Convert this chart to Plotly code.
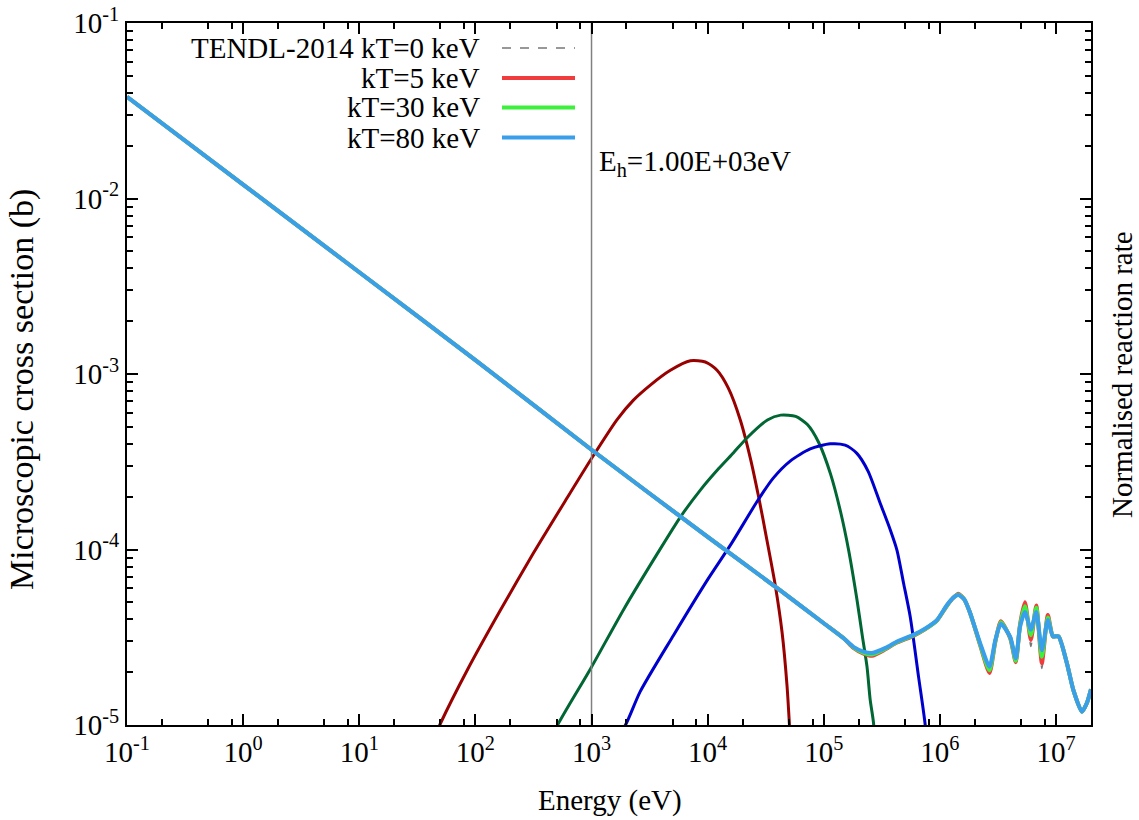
import numpy as np
import plotly.graph_objects as go

# ---------------- data ----------------
# Pointwise cross section (b) vs energy (eV), Doppler broadened at several kT
xs_E = [0.1, 1, 10, 100, 1e3, 1e4, 4.22e4, 1e5, 1.5e5, 1.8e5, 2.2e5, 2.6e5, 3.4e5, 4.27e5,
        5.9e5, 7.5e5, 9.42e5, 1.15e6, 1.3e6, 1.44e6, 1.62e6, 1.82e6, 2.22e6, 2.67e6, 3.0e6,
        3.35e6, 4.03e6, 4.5e6, 4.9e6, 5.4e6, 6.07e6, 6.76e6, 7.55e6, 8.5e6, 9.4e6, 1.05e7,
        1.24e7, 1.41e7, 1.67e7, 1.84e7, 2.0e7]
xs_kT80 = [0.038, 0.0120, 3.8e-3, 1.20e-3, 3.7e-4, 1.18e-4, 5.85e-5, 3.8e-5, 3.1e-5, 2.79e-5, 2.62e-5, 2.57e-5, 2.75e-5, 2.99e-5,
           3.26e-5, 3.55e-5, 3.96e-5, 4.83e-5, 5.3e-5, 5.5e-5, 5.2e-5, 4.35e-5, 2.93e-5, 2.15e-5, 3.05e-5,
           3.77e-5, 3.18e-5, 2.4e-5, 3.63e-5, 4.4e-5, 3.5e-5, 4.4e-5, 2.67e-5, 3.96e-5, 3.2e-5, 3.2e-5,
           2.25e-5, 1.58e-5, 1.19e-5, 1.33e-5, 1.60e-5]
xs_kT30 = [0.038, 0.0120, 3.8e-3, 1.20e-3, 3.7e-4, 1.18e-4, 5.85e-5, 3.8e-5, 3.1e-5, 2.77e-5, 2.58e-5, 2.52e-5, 2.72e-5, 2.97e-5,
           3.24e-5, 3.53e-5, 3.94e-5, 4.8e-5, 5.3e-5, 5.55e-5, 5.2e-5, 4.35e-5, 2.88e-5, 2.05e-5, 3.0e-5,
           3.85e-5, 3.15e-5, 2.32e-5, 3.7e-5, 4.75e-5, 3.25e-5, 4.65e-5, 2.45e-5, 4.1e-5, 3.2e-5, 3.2e-5,
           2.25e-5, 1.58e-5, 1.19e-5, 1.33e-5, 1.60e-5]
xs_kT5 = [0.038, 0.0120, 3.8e-3, 1.20e-3, 3.7e-4, 1.18e-4, 5.85e-5, 3.8e-5, 3.1e-5, 2.75e-5, 2.55e-5, 2.48e-5, 2.7e-5, 2.95e-5,
          3.22e-5, 3.52e-5, 3.93e-5, 4.78e-5, 5.3e-5, 5.6e-5, 5.2e-5, 4.35e-5, 2.85e-5, 1.98e-5, 2.98e-5,
          3.9e-5, 3.12e-5, 2.28e-5, 3.75e-5, 5.0e-5, 3.05e-5, 4.8e-5, 2.25e-5, 4.24e-5, 3.2e-5, 3.2e-5,
          2.25e-5, 1.58e-5, 1.19e-5, 1.33e-5, 1.60e-5]
xs_kT0 = [0.038, 0.0120, 3.8e-3, 1.20e-3, 3.7e-4, 1.18e-4, 5.85e-5, 3.8e-5, 3.1e-5, 2.75e-5, 2.55e-5, 2.47e-5, 2.7e-5, 2.95e-5,
          3.22e-5, 3.52e-5, 3.93e-5, 4.78e-5, 5.3e-5, 5.6e-5, 5.2e-5, 4.35e-5, 2.85e-5, 1.96e-5, 2.98e-5,
          3.9e-5, 3.12e-5, 2.25e-5, 3.75e-5, 5.1e-5, 2.8e-5, 4.85e-5, 2.1e-5, 4.3e-5, 3.2e-5, 3.2e-5,
          2.25e-5, 1.58e-5, 1.19e-5, 1.33e-5, 1.60e-5]

# Normalised reaction rate spectra (Maxwellian-weighted)
rr5_E = [36, 50, 85, 164, 318, 617, 1000, 1660, 2296, 3210, 4775, 7100, 9550, 12050, 15070, 19100,
         23300, 27500, 32400, 38300, 43700, 48200, 51500]
rr5_v = [6.2e-6, 1.02e-5, 2.05e-5, 4.5e-5, 9.6e-5, 1.97e-4, 3.3e-4, 5.5e-4, 7.1e-4, 8.65e-4, 1.05e-3, 1.19e-3, 1.17e-3,
         1.05e-3, 8.3e-4, 5.47e-4, 3.32e-4, 1.99e-4, 1.13e-4, 6.2e-5, 3.39e-5, 1.69e-5, 8.2e-6]

rr30_E = [216, 300, 510, 984, 1908, 3700, 5820, 8650, 12500, 16630, 22000, 32700, 42600, 57300, 72300,
          90400, 114600, 139800, 163700, 193300, 215000, 235600, 251000, 268000, 285000]
rr30_v = [3.0e-6, 4.9e-6, 1.0e-5, 2.1e-5, 4.6e-5, 9.5e-5, 1.53e-4, 2.18e-4, 2.9e-4, 3.55e-4, 4.35e-4, 5.47e-4, 5.83e-4, 5.73e-4, 5.15e-4,
          4.07e-4, 2.68e-4, 1.63e-4, 9.9e-5, 5.15e-5, 3.2e-5, 2.15e-5, 1.39e-5, 1.03e-5, 5.0e-6]

rr80_E = [576, 800, 1360, 1960, 2624, 5088, 9870, 16000, 26560, 36700, 51360, 76400, 113600, 152800,
          192800, 241000, 305600, 372800, 427000, 486000, 555000, 655000, 747000, 790000]
rr80_v = [2.1e-6, 3.36e-6, 7.0e-6, 1.0e-5, 1.55e-5, 3.25e-5, 6.65e-5, 1.08e-4, 1.87e-4, 2.55e-4, 3.19e-4, 3.74e-4, 4.0e-4, 3.93e-4,
          3.53e-4, 2.79e-4, 1.84e-4, 1.3e-4, 9.9e-5, 6.45e-5, 4.14e-5, 1.88e-5, 1.0e-5, 6.0e-6]

Eh = 1.0e3
legend_labels = ["TENDL-2014 kT=0 keV", "kT=5 keV", "kT=30 keV", "kT=80 keV"]
x_tick_vals = [1e-1, 1e0, 1e1, 1e2, 1e3, 1e4, 1e5, 1e6, 1e7]
x_tick_text = ["10<sup>-1</sup>", "10<sup>0</sup>", "10<sup>1</sup>", "10<sup>2</sup>", "10<sup>3</sup>",
               "10<sup>4</sup>", "10<sup>5</sup>", "10<sup>6</sup>", "10<sup>7</sup>"]
y_tick_vals = [1e-5, 1e-4, 1e-3, 1e-2, 1e-1]
y_tick_text = ["10<sup>-5</sup>", "10<sup>-4</sup>", "10<sup>-3</sup>", "10<sup>-2</sup>", "10<sup>-1</sup>"]

# ---------------- style ----------------
FONT = "Liberation Serif, Times New Roman, Times, serif"
FS = 29
c_kT0 = "#777777"
c_kT5 = "#f03c3c"
c_kT30 = "#3cf03c"
c_kT80 = "#3a9fea"
c_rr5 = "#990000"
c_rr30 = "#006633"
c_rr80 = "#0000cc"

fig = go.Figure()

# reaction rate spectra
for E, v, c in [(rr5_E, rr5_v, c_rr5), (rr30_E, rr30_v, c_rr30), (rr80_E, rr80_v, c_rr80)]:
    fig.add_trace(go.Scatter(x=E, y=v, mode="lines", line=dict(color=c, width=3, shape="spline", smoothing=0.7),
                             showlegend=False, hoverinfo="skip"))

# E_h vertical line
fig.add_trace(go.Scatter(x=[Eh, Eh], y=[1e-5, 1e-1], mode="lines", line=dict(color="#808080", width=1.5),
                         showlegend=False, hoverinfo="skip"))

# cross sections
for y, c, w, d in [(xs_kT0, c_kT0, 1.5, "dash"), (xs_kT5, c_kT5, 4, "solid"),
                   (xs_kT30, c_kT30, 4, "solid"), (xs_kT80, c_kT80, 4, "solid")]:
    fig.add_trace(go.Scatter(x=xs_E, y=y, mode="lines",
                             line=dict(color=c, width=w, dash=d, shape="spline", smoothing=0.6),
                             showlegend=False))

# ---------------- layout ----------------
L, R, T, B = 127, 48, 23, 95
W, H = 1139, 820
pw, ph = W - L - R, H - T - B

def px_x(p):
    return (p - L) / pw

def px_y(p):
    return (H - B - p) / ph

x_minor = [m * 10.0 ** k for k in range(-1, 8) for m in (2, 5, 8) if m * 10.0 ** k < 2e7]
y_minor = [m * 10.0 ** k for k in range(-5, -1) for m in range(2, 10)]

axis_common = dict(
    type="log", showline=True, linecolor="black", linewidth=2, mirror="allticks",
    ticks="inside", ticklen=11, tickwidth=1.5, tickcolor="black", showgrid=False, zeroline=False,
    tickfont=dict(family=FONT, size=FS, color="black"), tickmode="array", automargin=False,
)

fig.update_layout(
    width=W, height=H,
    margin=dict(l=L, r=R, t=T, b=B, autoexpand=False),
    paper_bgcolor="white", plot_bgcolor="white",
    showlegend=False,
    xaxis=dict(range=[-1, np.log10(2e7)], tickvals=x_tick_vals, ticktext=x_tick_text,
               minor=dict(tickmode="array", tickvals=x_minor, ticks="inside", ticklen=6, tickwidth=1.5, tickcolor="black"),
               **axis_common),
    yaxis=dict(range=[-5, -1], tickvals=y_tick_vals, ticktext=y_tick_text,
               minor=dict(tickmode="array", tickvals=y_minor, ticks="inside", ticklen=6, tickwidth=1.5, tickcolor="black"),
               **axis_common),
    font=dict(family=FONT, size=FS, color="black"),
)

annotations = [
    dict(text="Energy (eV)", x=px_x(610), y=px_y(800), xref="paper", yref="paper",
         xanchor="center", yanchor="middle", showarrow=False),
    dict(text="Microscopic cross section (b)", x=px_x(22), y=px_y(390), xref="paper", yref="paper",
         xanchor="center", yanchor="middle", textangle=-90, showarrow=False, font=dict(size=34)),
    dict(text="Normalised reaction rate", x=px_x(1122), y=px_y(375), xref="paper", yref="paper",
         xanchor="center", yanchor="middle", textangle=-90, showarrow=False),
    dict(text="E<sub>h</sub>=1.00E+03eV", x=(np.log10(Eh) + 1) / np.log10(2e7 / 0.1), y=px_y(163),
         xref="paper", yref="paper", xanchor="left", yanchor="middle", xshift=5, showarrow=False),
]

# custom gnuplot-like key (text right, sample to the right)
key_rows = [48, 78, 107.5, 137.5]
key_colors = [c_kT0, c_kT5, c_kT30, c_kT80]
key_dash = ["dash", "solid", "solid", "solid"]
key_width = [1.5, 4, 4, 4]
shapes = []
for lab, yy, col, dsh, wd in zip(legend_labels, key_rows, key_colors, key_dash, key_width):
    annotations.append(dict(text=lab, x=px_x(482), y=px_y(yy), xref="paper", yref="paper",
                            xanchor="right", yanchor="middle", showarrow=False))
    shapes.append(dict(type="line", xref="paper", yref="paper", x0=px_x(502), x1=px_x(575),
                       y0=px_y(yy), y1=px_y(yy), line=dict(color=col, width=wd, dash=dsh)))

fig.update_layout(annotations=annotations, shapes=shapes)

fig.write_html("out.html", config={"displayModeBar": False},
               post_script="document.body.style.margin='0px';document.body.style.padding='0px';")
